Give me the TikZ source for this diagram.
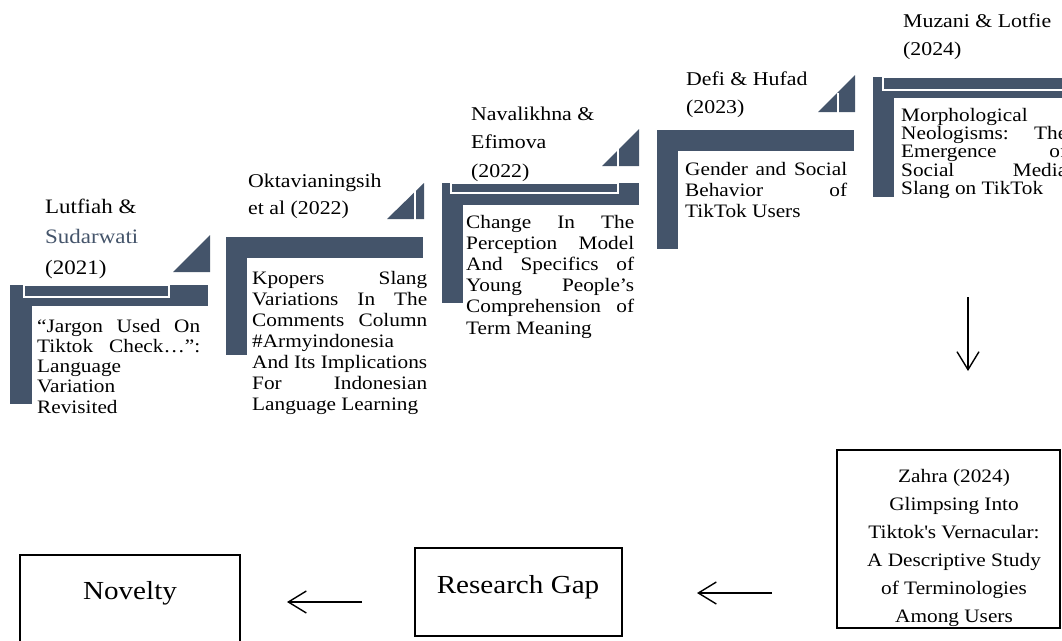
\documentclass[tikz,border=0pt]{standalone}
\usepackage{fontspec}
\setmainfont{Liberation Serif}[FakeStretch=1.12]
\usetikzlibrary{arrows.meta}
\definecolor{slate}{HTML}{44546A}
\newcommand\jl[2]{\makebox[#1][s]{#2}}
\begin{document}
\begin{tikzpicture}[x=1pt,y=-1pt,
  bar/.style={fill=slate},
  cut/.style={draw=white, line width=1.2pt},
  txt/.style={anchor=base west, inner sep=0pt, align=left},
  framebox/.style={draw=black, line width=2.2pt, inner sep=0pt},
  arr/.style={line width=1.4pt, -{Straight Barb[length=18pt,width=22pt,line width=1.4pt]}}
]
\useasboundingbox (0,0) rectangle (1062,640);

% ---------- step 1 ----------
\fill[bar] (10,285) rectangle (32,404);
\fill[bar] (10,285) rectangle (208,306);
\draw[cut, fill=slate] (24,285) rectangle (169,297);
\fill[bar] (173,272) -- (210,272) -- (210,235) -- cycle;
\node[txt, font=\fontsize{20.5}{30.5}\selectfont] (h1) at (45,274)
  {Lutfiah \&\\\textcolor{slate}{Sudarwati}\\(2021)};
\node[txt, font=\fontsize{19}{20.3}\selectfont] (b1) at (37,413.2)
  {\jl{163pt}{“Jargon Used On}\\\jl{163pt}{Tiktok Check…”:}\\Language\\Variation\\Revisited};

% ---------- step 2 ----------
\fill[bar] (226,237) rectangle (247,355);
\fill[bar] (226,237) rectangle (423,258);
\fill[bar] (387,219) -- (424,219) -- (424,183) -- cycle;
\draw[cut] (415,190) -- (415,220);
\node[txt, font=\fontsize{19.5}{27}\selectfont] (h2) at (248,214)
  {Oktavianingsih\\et al (2022)};
\node[txt, font=\fontsize{19}{21.1}\selectfont] (b2) at (252,410.6)
  {\jl{175pt}{Kpopers Slang}\\\jl{175pt}{Variations In The}\\\jl{175pt}{Comments Column}\\\#Armyindonesia\\\jl{175pt}{And Its Implications}\\\jl{175pt}{For Indonesian}\\Language Learning};

% ---------- step 3 ----------
\fill[bar] (442,183) rectangle (463,303);
\fill[bar] (442,183) rectangle (639,205);
\draw[cut, fill=slate] (451,183) rectangle (618,193);
\fill[bar] (602,166) -- (639,166) -- (639,129) -- cycle;
\draw[cut] (618,146) -- (618,167);
\node[txt, font=\fontsize{19.5}{28.5}\selectfont] (h3) at (471,177)
  {Navalikhna \&\\Efimova\\(2022)};
\node[txt, font=\fontsize{19}{21.2}\selectfont] (b3) at (466,334)
  {\jl{168pt}{Change In The}\\\jl{168pt}{Perception Model}\\\jl{168pt}{And Specifics of}\\\jl{168pt}{Young People’s}\\\jl{168pt}{Comprehension of}\\Term Meaning};

% ---------- step 4 ----------
\fill[bar] (657,130) rectangle (678,249);
\fill[bar] (657,130) rectangle (854,151);
\fill[bar] (818,112) -- (855,112) -- (855,75) -- cycle;
\draw[cut] (838,93) -- (838,113);
\node[txt, font=\fontsize{19.5}{28}\selectfont] (h4) at (686,113)
  {Defi \& Hufad\\(2023)};
\node[txt, font=\fontsize{19}{21}\selectfont] (b4) at (685,217)
  {\jl{162pt}{Gender and Social}\\\jl{162pt}{Behavior of}\\TikTok Users};

% ---------- step 5 ----------
\fill[bar] (873,77) rectangle (894,197);
\fill[bar] (873,77) rectangle (1070,98);
\draw[cut, fill=slate] (883,77) rectangle (1075,90);
\node[txt, font=\fontsize{19.5}{28}\selectfont] (h5) at (903,55)
  {Muzani \& Lotfie\\(2024)};
\node[txt, font=\fontsize{19}{18.4}\selectfont] (b5) at (901,194.6)
  {Morphological\\\jl{166pt}{Neologisms: The}\\\jl{166pt}{Emergence of}\\\jl{166pt}{Social Media}\\Slang on TikTok};

% ---------- lower row ----------
\node[framebox, minimum width=223pt, minimum height=178pt] (zahra) at (948.5,539) {};
\node[anchor=base, inner sep=0pt, align=center, font=\fontsize{19}{28}\selectfont] (zt) at (954,622)
  {Zahra (2024)\\Glimpsing Into\\Tiktok\textquotesingle s Vernacular:\\A Descriptive Study\\of Terminologies\\Among Users};

\node[framebox, minimum width=207pt, minimum height=88pt] (rg) at (518.5,592) {};
\node[inner sep=0pt, font=\fontsize{26}{30}\selectfont] (rgt) at (518,587) {Research Gap};

\node[framebox, minimum width=220pt, minimum height=90pt] (nov) at (130,600) {};
\node[inner sep=0pt, font=\fontsize{26}{30}\selectfont] (novt) at (130,593) {Novelty};

\coordinate (d1) at (968,297);
\coordinate (d2) at (968,371);
\coordinate (l1a) at (772,593);
\coordinate (l1b) at (697,593);
\coordinate (l2a) at (362,602);
\coordinate (l2b) at (287,602);
\draw[arr] (d1) -- (d2);
\draw[arr] (l1a) -- (l1b);
\draw[arr] (l2a) -- (l2b);
\end{tikzpicture}
\end{document}
